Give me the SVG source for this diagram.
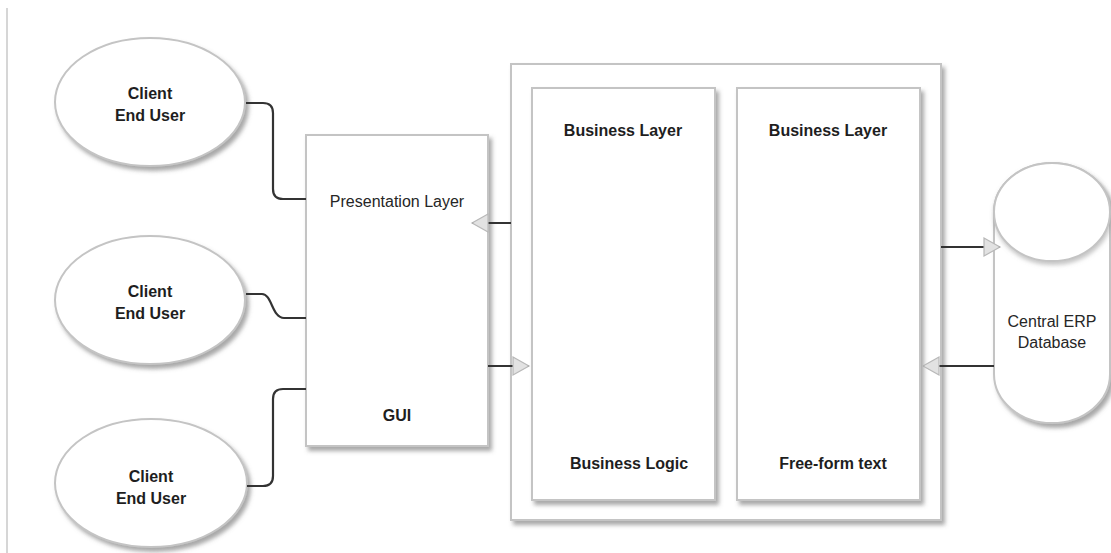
<svg xmlns="http://www.w3.org/2000/svg" width="1111" height="553" viewBox="0 0 1111 553">
<defs>
<filter id="sh" x="-10%" y="-10%" width="130%" height="130%">
<feDropShadow dx="3" dy="4" stdDeviation="2" flood-color="#6e6e6e" flood-opacity="0.6"/>
</filter>
<filter id="sh2" x="-10%" y="-10%" width="130%" height="140%">
<feDropShadow dx="1" dy="3" stdDeviation="2" flood-color="#8a8a8a" flood-opacity="0.5"/>
</filter>
<marker id="ah" markerUnits="userSpaceOnUse" markerWidth="20" markerHeight="22" refX="17" refY="10" orient="auto" viewBox="0 0 20 22">
<path d="M1,1 L17,10 L1,19 z" fill="#e2e2e2" stroke="#b8b8b8" stroke-width="1.2"/>
</marker>
<style>
.box{fill:#fff;stroke:#c4c4c4;stroke-width:2;filter:url(#sh)}
.b{font-family:"Liberation Sans",Arial,sans-serif;font-weight:bold;font-size:16px;fill:#1e1e1e;text-anchor:middle}
.r{font-family:"Liberation Sans",Arial,sans-serif;font-size:16px;fill:#262626;text-anchor:middle}
.c{fill:none;stroke:#333;stroke-width:2.2}
.a{fill:none;stroke:#333;stroke-width:2.2;marker-end:url(#ah)}
</style>
</defs>
<rect width="1111" height="553" fill="#fff"/>
<line x1="7" y1="8" x2="7" y2="553" stroke="#c8c8c8" stroke-width="1.5"/>

<g id="client1">
<ellipse class="box" cx="150" cy="102" rx="95" ry="64"/>
<text class="b" x="150" y="99">Client</text>
<text class="b" x="150" y="121">End User</text>
</g>
<g id="client2">
<ellipse class="box" cx="150" cy="300" rx="95" ry="64"/>
<text class="b" x="150" y="297">Client</text>
<text class="b" x="150" y="319">End User</text>
</g>
<g id="client3">
<ellipse class="box" cx="151" cy="483" rx="96" ry="64"/>
<text class="b" x="151" y="482">Client</text>
<text class="b" x="151" y="504">End User</text>
</g>

<g id="presentation">
<rect class="box" x="306" y="135" width="182" height="311"/>
<text class="r" x="397" y="207" font-size="17">Presentation Layer</text>
<text class="b" x="397" y="421">GUI</text>
</g>

<g id="business-container">
<rect class="box" x="511" y="64" width="430" height="456"/>
</g>
<g id="business1">
<rect class="box" x="532" y="88" width="183" height="412"/>
<text class="b" x="623" y="136">Business Layer</text>
<text class="b" x="629" y="469">Business Logic</text>
</g>
<g id="business2">
<rect class="box" x="737" y="88" width="183" height="412"/>
<text class="b" x="828" y="136">Business Layer</text>
<text class="b" x="833" y="469">Free-form text</text>
</g>

<g id="database">
<path class="box" d="M994,212 L994,374 A58,49 0 0 0 1110,374 L1110,212 A58,49 0 0 0 994,212 z"/>
<ellipse cx="1052" cy="212" rx="58" ry="49" fill="#fff" stroke="#c4c4c4" stroke-width="2" filter="url(#sh2)"/>
<text class="r" x="1052" y="327" font-size="14.5">Central ERP</text>
<text class="r" x="1052" y="348" font-size="14.5">Database</text>
</g>

<g id="connectors">
<path class="c" d="M246,103 H263 Q273,103 273,113 V189 Q273,199 283,199 H306"/>
<path class="c" d="M246,294 H262 C272,294 272,318 284,318 H306"/>
<path class="c" d="M247,486 H263 Q273,486 273,476 V399 Q273,389 283,389 H306"/>
<path class="a" d="M511,223 H472"/>
<path class="a" d="M488,366 H529"/>
<path class="a" d="M941,247 H1000"/>
<path class="a" d="M994,366 H923"/>
</g>
</svg>
